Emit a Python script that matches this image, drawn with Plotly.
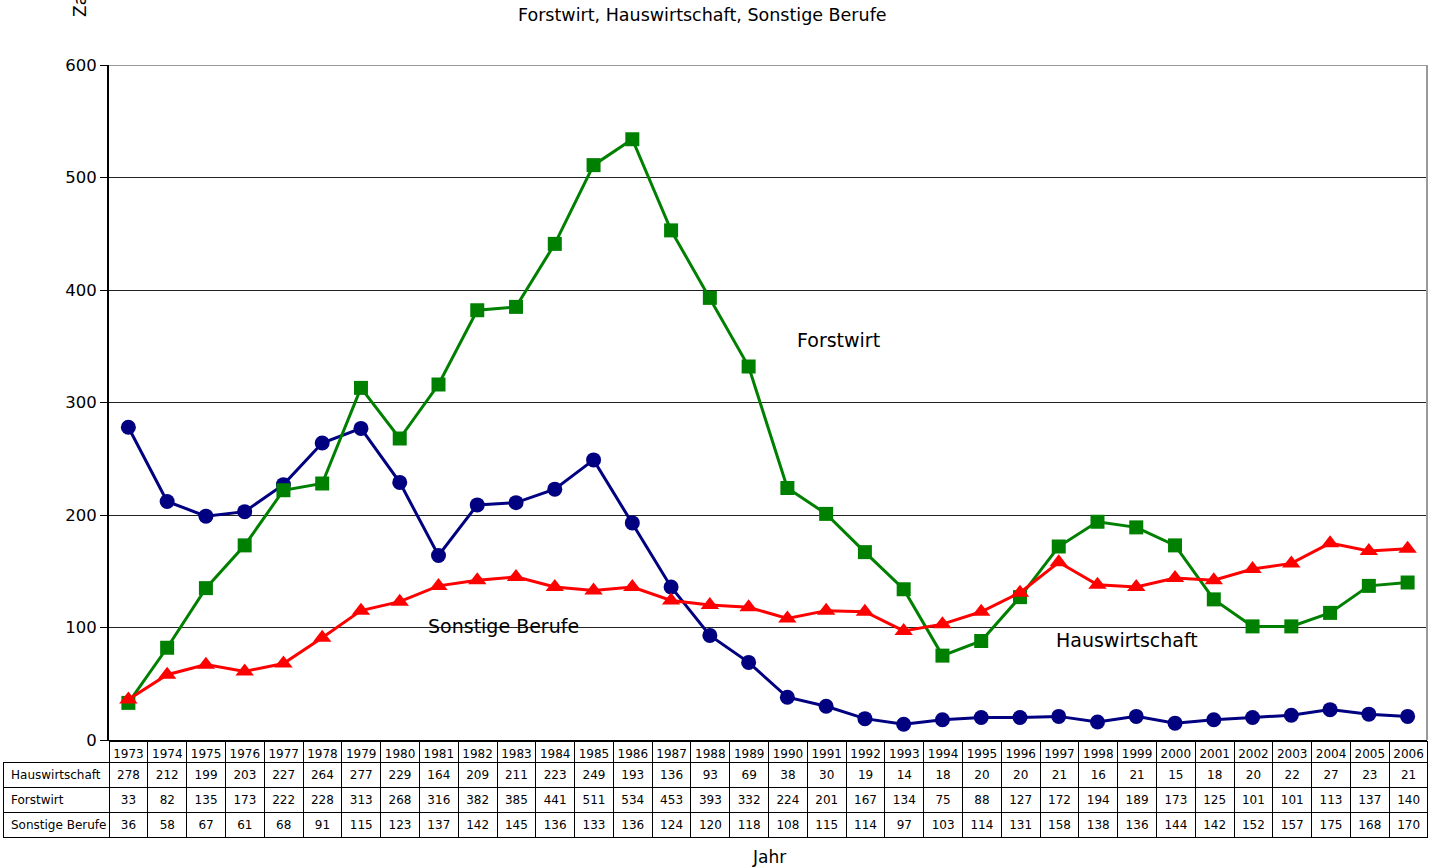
import plotly.graph_objects as go

W, H = 1437, 868

years = [str(y) for y in range(1973, 2007)]
hauswirtschaft = [278, 212, 199, 203, 227, 264, 277, 229, 164, 209, 211, 223, 249, 193, 136, 93, 69,
                  38, 30, 19, 14, 18, 20, 20, 21, 16, 21, 15, 18, 20, 22, 27, 23, 21]
forstwirt = [33, 82, 135, 173, 222, 228, 313, 268, 316, 382, 385, 441, 511, 534, 453, 393, 332,
             224, 201, 167, 134, 75, 88, 127, 172, 194, 189, 173, 125, 101, 101, 113, 137, 140]
sonstige = [36, 58, 67, 61, 68, 91, 115, 123, 137, 142, 145, 136, 133, 136, 124, 120, 118,
            108, 115, 114, 97, 103, 114, 131, 158, 138, 136, 144, 142, 152, 157, 175, 168, 170]
series_names = ["Hauswirtschaft", "Forstwirt", "Sonstige Berufe"]
y_ticks = [0, 100, 200, 300, 400, 500, 600]

FONT = "DejaVu Sans"


def px(x):
    return x / W


def py(y):
    return 1 - y / H


fig = go.Figure()

styles = [
    ("#000080", "circle", 15),
    ("#008000", "square", 14),
    ("#FF0000", "triangle-up", 16),
]
for name, vals, (col, sym, sz) in zip(series_names, [hauswirtschaft, forstwirt, sonstige], styles):
    fig.add_trace(go.Scatter(
        x=years, y=vals, name=name, mode="lines+markers",
        line=dict(color=col, width=3),
        marker=dict(color=col, symbol=sym, size=sz),
        xaxis="x", yaxis="y", showlegend=False,
    ))

# data table under the chart
header_vals = [""] + years
row_labels = [n.replace(" ", "\u00a0") for n in series_names]
cell_vals = [row_labels] + [[h, f, s] for h, f, s in zip(hauswirtschaft, forstwirt, sonstige)]
fig.add_trace(go.Table(
    domain=dict(x=[px(3), px(1428)], y=[py(842), py(741)]),
    columnwidth=[106] + [38.76] * len(years),
    header=dict(
        values=header_vals,
        fill_color=["rgba(0,0,0,0)"] + ["white"] * len(years),
        line=dict(color=["rgba(0,0,0,0)"] + ["black"] * len(years), width=1),
        align="center",
        height=21,
        font=dict(family=FONT, size=12, color="black"),
    ),
    cells=dict(
        values=cell_vals,
        fill_color="white",
        line=dict(color="black", width=1),
        align=["left"] + ["center"] * len(years),
        height=25,
        font=dict(family=FONT, size=12, color="black"),
    ),
))

fig.update_layout(
    width=W, height=H,
    margin=dict(l=0, r=0, t=0, b=0, autoexpand=False),
    paper_bgcolor="white", plot_bgcolor="white",
    font=dict(family=FONT, color="black"),
    xaxis=dict(
        type="category", domain=[px(109), px(1427)], range=[-0.5, len(years) - 0.5],
        showticklabels=False, ticks="", showgrid=False, automargin=False,
        showline=True, linecolor="black", linewidth=1, zeroline=False,
        anchor="y",
    ),
    yaxis=dict(
        domain=[py(740), py(65)], range=[0, 600], tickvals=y_ticks, automargin=False,
        ticks="outside", ticklen=7, tickcolor="black", tickwidth=1,
        showline=True, linecolor="black", linewidth=2,
        showgrid=True, gridcolor="#222222", gridwidth=1,
        zeroline=False, tickfont=dict(family=FONT, size=16.5, color="black"),
        anchor="x",
    ),
    shapes=[
        dict(type="line", xref="paper", yref="y", x0=px(109), x1=px(1427), y0=600, y1=600,
             line=dict(color="#9a9a9a", width=2)),
        dict(type="line", xref="paper", yref="paper", x0=px(1427), x1=px(1427), y0=py(740), y1=py(65),
             line=dict(color="#9a9a9a", width=2)),
    ],
    annotations=[
        dict(text="Forstwirt, Hauswirtschaft, Sonstige Berufe", x=px(702), y=py(15), xref="paper",
             yref="paper", xanchor="center", yanchor="middle", showarrow=False,
             font=dict(family=FONT, size=17.5)),
        dict(text="Zahl", textangle=-90, x=px(80), y=py(19), xref="paper", yref="paper",
             xanchor="center", yanchor="bottom", showarrow=False, font=dict(family=FONT, size=17)),
        dict(text="Jahr", x=px(769), y=py(857), xref="paper", yref="paper", xanchor="center",
             yanchor="middle", showarrow=False, font=dict(family=FONT, size=17)),
        dict(text="Forstwirt", x=px(838), y=py(340), xref="paper", yref="paper", xanchor="center",
             yanchor="middle", showarrow=False, font=dict(family=FONT, size=19)),
        dict(text="Sonstige Berufe", x=px(503), y=py(626), xref="paper", yref="paper", xanchor="center",
             yanchor="middle", showarrow=False, font=dict(family=FONT, size=19)),
        dict(text="Hauswirtschaft", x=px(1127), y=py(640), xref="paper", yref="paper", xanchor="center",
             yanchor="middle", showarrow=False, font=dict(family=FONT, size=19)),
    ],
)

fig.write_html(
    "out.html",
    config={"displayModeBar": False},
    post_script="document.body.style.margin='0';document.body.style.overflow='hidden';",
)
